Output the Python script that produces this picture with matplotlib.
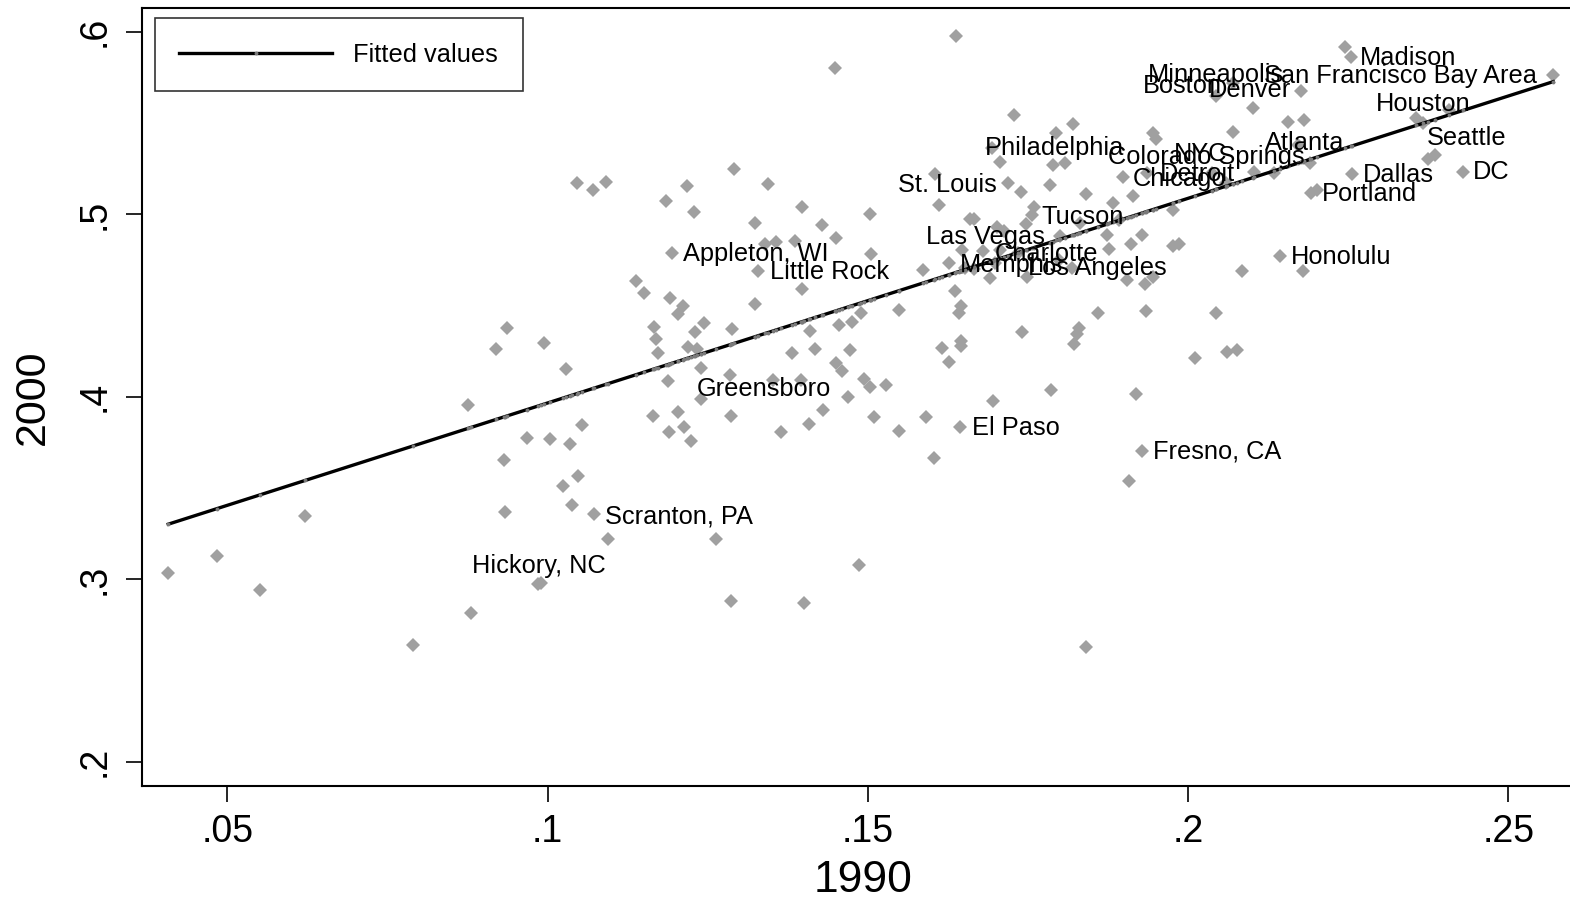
import numpy as np
import matplotlib
matplotlib.use('Agg')
import matplotlib.pyplot as plt

plt.rcParams['font.family'] = ['Liberation Sans', 'DejaVu Sans']

# ---- data: share in 1990 (x) vs 2000 (y), one point per metro area ----
x1990 = [
    0.0408, 0.0484, 0.0551, 0.0622, 0.0790, 0.0876, 0.0881, 0.0920, 0.0932, 0.0934,
    0.0937, 0.0968, 0.0990, 0.0995, 0.1004, 0.1024, 0.1029, 0.1035, 0.1038, 0.1048,
    0.1054, 0.1094, 0.1046, 0.1071, 0.1091, 0.1138, 0.1151, 0.1166, 0.1169, 0.1173,
    0.1165, 0.1185, 0.1188, 0.1190, 0.1191, 0.1204, 0.1204, 0.1212, 0.1213, 0.1218,
    0.1219, 0.1224, 0.1229, 0.1230, 0.1233, 0.1240, 0.1244, 0.1263, 0.1285, 0.1287,
    0.1287, 0.1288, 0.1291, 0.1324, 0.1324, 0.1340, 0.1344, 0.1352, 0.1357, 0.1365,
    0.1382, 0.1386, 0.1396, 0.1397, 0.1397, 0.1400, 0.1408, 0.1410, 0.1418, 0.1429,
    0.1430, 0.1450, 0.1450, 0.1455, 0.1460, 0.1469, 0.1472, 0.1475, 0.1486, 0.1489,
    0.1494, 0.1503, 0.1503, 0.1505, 0.1510, 0.1449, 0.1528, 0.1549, 0.1549, 0.1586,
    0.1591, 0.1603, 0.1611, 0.1616, 0.1627, 0.1636, 0.1638, 0.1642, 0.1645, 0.1645,
    0.1645, 0.1647, 0.1652, 0.1660, 0.1666, 0.1666, 0.1691, 0.1695, 0.1699, 0.1702,
    0.1706, 0.1706, 0.1713, 0.1719, 0.1728, 0.1739, 0.1741, 0.1747, 0.1749, 0.1759,
    0.1784, 0.1786, 0.1789, 0.1794, 0.1799, 0.1808, 0.1819, 0.1820, 0.1822, 0.1827,
    0.1830, 0.1831, 0.1841, 0.1841, 0.1859, 0.1873, 0.1877, 0.1883, 0.1892, 0.1905,
    0.1908, 0.1911, 0.1914, 0.1919, 0.1928, 0.1933, 0.1934, 0.1945, 0.1945, 0.1976,
    0.1976, 0.1986, 0.2011, 0.2037, 0.2044, 0.2059, 0.2061, 0.2070, 0.2076, 0.2084,
    0.2101, 0.2103, 0.2134, 0.2156, 0.2179, 0.2181, 0.2201, 0.2245, 0.2356, 0.2375,
    0.2407,
]
y2000 = [
    0.3034, 0.3127, 0.2941, 0.3346, 0.2639, 0.3955, 0.2815, 0.4261, 0.3653, 0.3368,
    0.4376, 0.3774, 0.2980, 0.4294, 0.3768, 0.3511, 0.4152, 0.3741, 0.3407, 0.3565,
    0.3845, 0.3220, 0.5171, 0.5133, 0.5176, 0.4634, 0.4568, 0.4382, 0.4316, 0.4239,
    0.3894, 0.5072, 0.4086, 0.3807, 0.4541, 0.4453, 0.3916, 0.4497, 0.3834, 0.5155,
    0.4272, 0.3757, 0.5012, 0.4355, 0.4261, 0.4157, 0.4404, 0.3220, 0.4119, 0.3894,
    0.2881, 0.4371, 0.5248, 0.4952, 0.4508, 0.4837, 0.5165, 0.4092, 0.4848, 0.3807,
    0.4239, 0.4853, 0.4092, 0.5039, 0.4590, 0.2870, 0.3850, 0.4360, 0.4261, 0.4941,
    0.3927, 0.4870, 0.4185, 0.4393, 0.4141, 0.3998, 0.4256, 0.4409, 0.3078, 0.4459,
    0.4097, 0.5001, 0.4053, 0.4782, 0.3889, 0.5801, 0.4064, 0.4475, 0.3812, 0.4694,
    0.3889, 0.3664, 0.5050, 0.4267, 0.4190, 0.4579, 0.5976, 0.4459, 0.4497, 0.4305,
    0.4278, 0.4804, 0.4705, 0.4974, 0.4974, 0.4700, 0.4650, 0.3976, 0.4733, 0.4930,
    0.5286, 0.4804, 0.4908, 0.5171, 0.5544, 0.5122, 0.4355, 0.4946, 0.4656, 0.5039,
    0.5160, 0.4037, 0.5270, 0.5445, 0.4749, 0.5281, 0.4705, 0.5494, 0.4289, 0.4344,
    0.4376, 0.4952, 0.5111, 0.2628, 0.4459, 0.4886, 0.4809, 0.5061, 0.4968, 0.4639,
    0.3538, 0.4837, 0.5100, 0.4015, 0.4886, 0.4618, 0.4470, 0.5445, 0.4656, 0.5023,
    0.4826, 0.4837, 0.4212, 0.5226, 0.4459, 0.5171, 0.4245, 0.5451, 0.4256, 0.4689,
    0.5582, 0.5231, 0.5226, 0.5505, 0.4689, 0.5516, 0.5133, 0.5916, 0.5527, 0.5303,
    0.5571,
]

# labelled metro areas
city_names = [
    'Madison', 'San Francisco Bay Area', 'Minneapolis', 'Boston', 'Denver',
    'Houston', 'Seattle', 'Atlanta', 'Philadelphia', 'Colorado Springs',
    'NYC', 'Detroit', 'Chicago', 'Dallas', 'DC', 'St. Louis', 'Portland',
    'Tucson', 'Las Vegas', 'Charlotte', 'Memphis', 'Los Angeles', 'Honolulu',
    'Appleton, WI', 'Little Rock', 'Greensboro', 'El Paso', 'Fresno, CA',
    'Scranton, PA', 'Hickory, NC',
]
city_x1990 = [
    0.2254, 0.2570, 0.2070, 0.2044, 0.2176, 0.2367, 0.2385, 0.2172, 0.1694, 0.2190,
    0.1950, 0.1936, 0.1898, 0.2256, 0.2429, 0.1605, 0.2192, 0.1756, 0.1800, 0.1680,
    0.1627, 0.1735, 0.2144, 0.1194, 0.1329, 0.1240, 0.1644, 0.1928, 0.1073, 0.0985,
]
city_y2000 = [
    0.5861, 0.5763, 0.5719, 0.5648, 0.5675, 0.5500, 0.5324, 0.5379, 0.5363, 0.5281,
    0.5412, 0.5226, 0.5204, 0.5220, 0.5231, 0.5220, 0.5116, 0.4996, 0.4881, 0.4798,
    0.4733, 0.4787, 0.4771, 0.4787, 0.4689, 0.3987, 0.3834, 0.3703, 0.3357, 0.2974,
]

# fitted line as drawn in the original (lfit over the full sample)
FIT_INTERCEPT = 0.2844
FIT_SLOPE = 1.1216

# label placement (pixel offset from marker, alignment)
LABEL_POS = {
    'Madison': (9, -1, 'left'), 'San Francisco Bay Area': (-16, -1, 'right'),
    'Minneapolis': (-85, 8, 'left'), 'Boston': (-73, 10, 'left'),
    'Denver': (-10, 1, 'right'), 'Houston': (-47, 19, 'left'),
    'Seattle': (-8, 17, 'left'), 'Atlanta': (-33, 2, 'left'),
    'Philadelphia': (-7, 0, 'left'), 'Colorado Springs': (-5, 6, 'right'),
    'NYC': (18, -15, 'left'), 'Detroit': (13, -1, 'left'),
    'Chicago': (10, -2, 'left'), 'Dallas': (11, -1, 'left'), 'DC': (10, 0, 'left'),
    'St. Louis': (-37, -11, 'left'), 'Portland': (11, -1, 'left'),
    'Tucson': (10, -2, 'left'), 'Las Vegas': (-15, -1, 'right'),
    'Charlotte': (12, -3, 'left'), 'Memphis': (11, -2, 'left'),
    'Los Angeles': (10, -15, 'left'), 'Honolulu': (11, -1, 'left'),
    'Appleton, WI': (11, -1, 'left'), 'Little Rock': (12, -1, 'left'),
    'Greensboro': (-4, 10, 'left'), 'El Paso': (12, -1, 'left'),
    'Fresno, CA': (11, -1, 'left'), 'Scranton, PA': (11, -2, 'left'),
    'Hickory, NC': (-66, 18, 'left'),
}

all_x = np.array(x1990 + city_x1990)
all_y = np.array(y2000 + city_y2000)

fit_x = np.sort(all_x)
fit_y = FIT_INTERCEPT + FIT_SLOPE * fit_x

fig = plt.figure(figsize=(15.7, 9.05), dpi=100)
ax = fig.add_axes([142 / 1570, 119 / 905, 1442 / 1570, 778 / 905])

ax.plot(all_x, all_y, linestyle='none', marker='D', markersize=6.7,
        color='#a0a0a0', markeredgewidth=0, zorder=2)
ax.plot(fit_x, fit_y, color='black', linewidth=2.4, marker='o', markersize=2.8,
        markerfacecolor='#7a7a7a', markeredgewidth=0, zorder=3, label='Fitted values')

for name, cx, cy in zip(city_names, city_x1990, city_y2000):
    dx, dy, ha = LABEL_POS[name]
    ax.annotate(name, (cx, cy), xytext=(dx, dy), textcoords='offset pixels',
                ha=ha, va='center', fontsize=18.3, color='black', zorder=4)

ax.set_xlim(0.0367, 0.2618)
ax.set_ylim(0.1867, 0.6130)
ax.set_xticks([0.05, 0.1, 0.15, 0.2, 0.25])
ax.set_xticklabels(['.05', '.1', '.15', '.2', '.25'])
ax.set_yticks([0.2, 0.3, 0.4, 0.5, 0.6])
ax.set_yticklabels(['.2', '.3', '.4', '.5', '.6'], rotation=90, va='center')
ax.tick_params(axis='both', direction='out', length=11.5, width=1.2, labelsize=27)
ax.tick_params(axis='x', pad=9)
ax.tick_params(axis='y', pad=10)
for sp in ax.spines.values():
    sp.set_linewidth(1.5)

ax.set_xlabel('1990', fontsize=32, labelpad=7)
ax.set_ylabel('2000', fontsize=31, labelpad=17)

leg = ax.legend(loc='upper left', bbox_to_anchor=(0.009, 0.987), numpoints=1,
                handlelength=6.0, handletextpad=0.85, borderpad=0.96,
                fontsize=18.3, frameon=True, fancybox=False, borderaxespad=0)
leg.get_frame().set_edgecolor('black')
leg.get_frame().set_linewidth(1.2)

fig.savefig('out.png', dpi=100)
